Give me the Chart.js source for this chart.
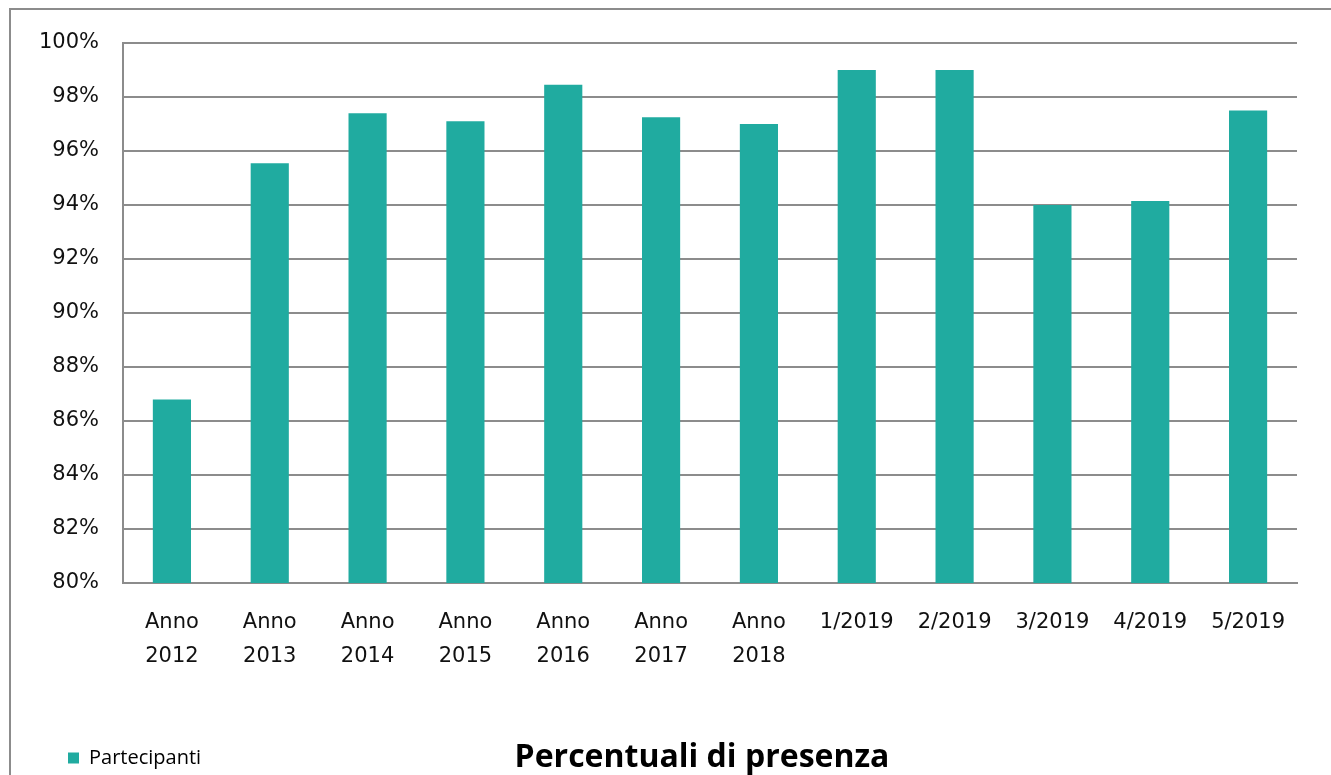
<!DOCTYPE html>
<html lang="it">
<head>
<meta charset="utf-8">
<title>Percentuali di presenza</title>
<script src="https://cdn.jsdelivr.net/npm/chart.js@4/dist/chart.umd.min.js"></script>
<style>
  html, body { margin: 0; padding: 0; background: #fff; overflow: hidden; }
  #wrap { position: relative; width: 1331px; height: 775px; }
  #frame { position: absolute; left: 9px; top: 8px; right: 0; bottom: -10px; border-top: 2px solid #8c8c8c; border-left: 2px solid #8c8c8c; }
  #chart-title { position: absolute; left: 702px; top: 739px; transform: translateX(-50%); font: bold 32px "Open Sans", sans-serif; line-height: 32px; color: #000; white-space: nowrap; }
</style>
</head>
<body>
<div id="wrap">
  <div id="frame"></div>
  <canvas id="chart" width="1331" height="775"></canvas>
  <div id="chart-title">Percentuali di presenza</div>
</div>
<script>
// --- DATA ---
const categories = [
  ['Anno', '2012'], ['Anno', '2013'], ['Anno', '2014'], ['Anno', '2015'],
  ['Anno', '2016'], ['Anno', '2017'], ['Anno', '2018'],
  '1/2019', '2/2019', '3/2019', '4/2019', '5/2019'
];
const partecipanti = [86.8, 95.55, 97.4, 97.1, 98.45, 97.25, 97.0, 99.0, 99.0, 94.0, 94.15, 97.5];
const yMin = 80;
const yMax = 100;
const yStep = 2;

// --- STYLE ---
const barColor = '#20aba0';
const gridColor = '#8c8c8c';
const tickFont = { family: '"DejaVu Sans", Verdana, sans-serif', size: 21, lineHeight: 1.62 };

// --- CHART ---
const ctx = document.getElementById('chart');
new Chart(ctx, {
  type: 'bar',
  data: {
    labels: categories,
    datasets: [{
      label: 'Partecipanti',
      data: partecipanti,
      backgroundColor: barColor,
      borderWidth: 0,
      categoryPercentage: 1,
      barPercentage: 0.39
    }]
  },
  options: {
    responsive: false,
    animation: false,
    layout: { padding: { left: 30, right: 34, top: 43, bottom: -3 } },
    plugins: {
      tooltip: { enabled: false },
      title: { display: false },
      legend: {
        position: 'bottom',
        align: 'start',
        labels: {
          boxWidth: 11,
          boxHeight: 11,
          color: '#000',
          font: { family: '"Open Sans", sans-serif', size: 20 },
          padding: 38
        }
      }
    },
    scales: {
      x: {
        grid: { display: false, drawTicks: false },
        border: { display: true, color: gridColor, width: 2 },
        ticks: { color: '#111', font: tickFont, padding: 23, maxRotation: 0, autoSkip: false },
        afterFit: (scale) => { scale.height = 127; }
      },
      y: {
        min: yMin,
        max: yMax,
        grid: { color: gridColor, lineWidth: 2, drawTicks: false },
        border: { display: true, color: gridColor, width: 2 },
        ticks: {
          stepSize: yStep,
          color: '#111',
          font: tickFont,
          padding: 24,
          callback: (v) => v + '%'
        },
        afterFit: (scale) => { scale.width = 93; }
      }
    }
  }
});
</script>
</body>
</html>
